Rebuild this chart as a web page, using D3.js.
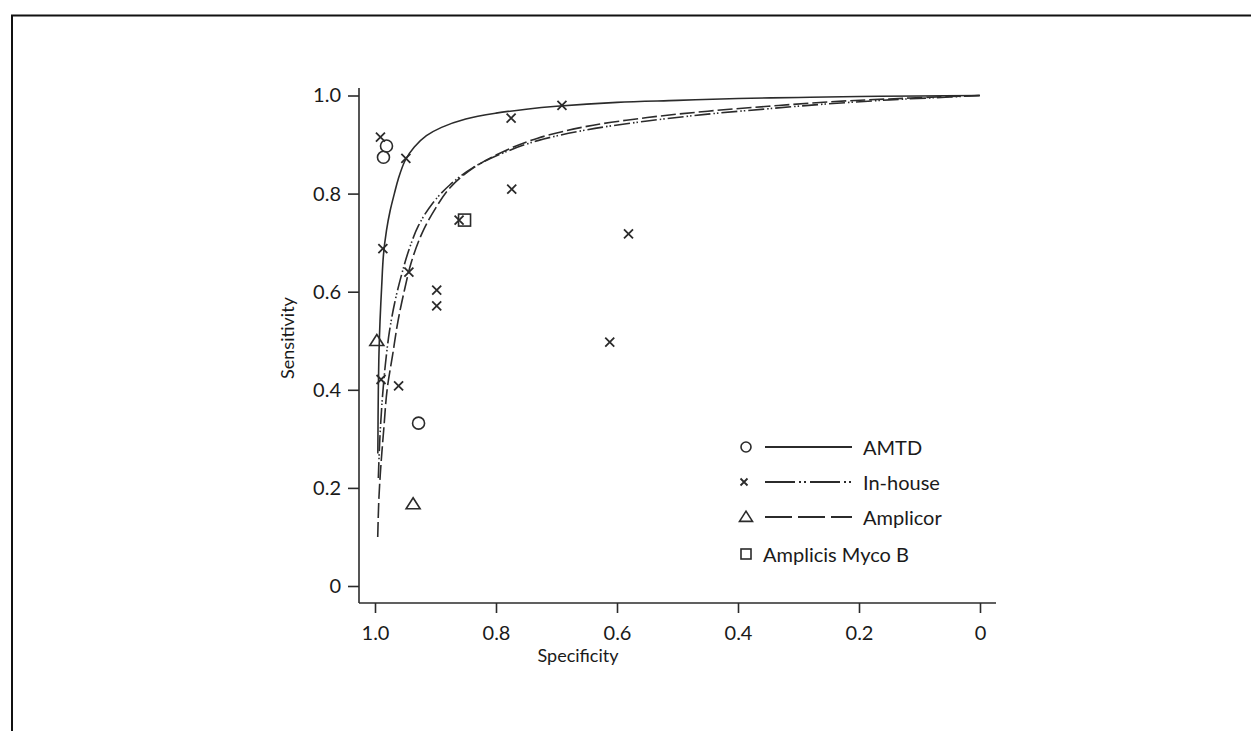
<!DOCTYPE html>
<html>
<head>
<meta charset="utf-8">
<script src="https://cdn.jsdelivr.net/npm/d3@7"></script>
<style>
  html, body { margin: 0; padding: 0; background: #fff; }
  svg { display: block; font-family: Lato, "Open Sans", sans-serif; }
</style>
</head>
<body>
<svg id="chart" width="1251" height="731"></svg>
<script>
// ---- Data (specificity, sensitivity) ----
const xTicks = [1.0, 0.8, 0.6, 0.4, 0.2, 0];
const yTicks = [0, 0.2, 0.4, 0.6, 0.8, 1.0];
const xTickLabels = ["1.0", "0.8", "0.6", "0.4", "0.2", "0"];
const yTickLabels = ["0", "0.2", "0.4", "0.6", "0.8", "1.0"];

const seriesNames = ["AMTD", "In-house", "Amplicor", "Amplicis Myco B"];

const amtdPoints = [[0.981, 0.897], [0.986, 0.874], [0.928, 0.332]];
const inhousePoints = [
  [0.991, 0.915], [0.949, 0.872], [0.987, 0.688], [0.944, 0.640],
  [0.898, 0.603], [0.898, 0.571], [0.861, 0.746], [0.990, 0.421],
  [0.961, 0.408], [0.774, 0.809], [0.775, 0.954], [0.691, 0.980],
  [0.581, 0.718], [0.612, 0.497]
];
const amplicorPoints = [[0.997, 0.500], [0.937, 0.167]];
const amplicisPoints = [[0.852, 0.746]];

const amtdCurve = [
  [0.9953, 0.27], [0.9945, 0.40], [0.9934, 0.475], [0.9917, 0.54], [0.989, 0.61],
  [0.986, 0.675], [0.981, 0.725], [0.975, 0.765], [0.968, 0.80], [0.9615, 0.83],
  [0.950, 0.868], [0.935, 0.895], [0.915, 0.918], [0.890, 0.935], [0.850, 0.952],
  [0.800, 0.964], [0.750, 0.972], [0.700, 0.978], [0.600, 0.986], [0.500, 0.990],
  [0.400, 0.994], [0.300, 0.996], [0.200, 0.998], [0.100, 0.999], [0.0, 1.0]
];
const inhouseCurve = [
  [0.9945, 0.22], [0.992, 0.30], [0.988, 0.38], [0.983, 0.45], [0.976, 0.52],
  [0.967, 0.58], [0.956, 0.635], [0.944, 0.685], [0.928, 0.735], [0.905, 0.78],
  [0.876, 0.818], [0.838, 0.853], [0.782, 0.886], [0.731, 0.908], [0.65, 0.93],
  [0.55, 0.948], [0.45, 0.962], [0.35, 0.973], [0.25, 0.983], [0.15, 0.991],
  [0.05, 0.997], [0, 1.0]
];
const amplicorCurve = [
  [0.9955, 0.10], [0.9935, 0.18], [0.990, 0.25], [0.9855, 0.32], [0.980, 0.40],
  [0.971, 0.47], [0.962, 0.54], [0.951, 0.605], [0.940, 0.66], [0.922, 0.72],
  [0.900, 0.77], [0.876, 0.812], [0.838, 0.852], [0.782, 0.889], [0.731, 0.913],
  [0.65, 0.937], [0.55, 0.955], [0.45, 0.968], [0.35, 0.978], [0.25, 0.987],
  [0.15, 0.993], [0.05, 0.998], [0, 1.0]
];

// ---- Drawing ----
const ink = "#2b2b2b";
const svg = d3.select("#chart");

// outer frame (clipped at right/bottom like the reference)
svg.append("rect").attr("x", 12).attr("y", 15.5).attr("width", 1400).attr("height", 900)
  .attr("fill", "none").attr("stroke", "#111").attr("stroke-width", 2);

const x = d3.scaleLinear().domain([1, 0]).range([375, 980]);
const y = d3.scaleLinear().domain([0, 1]).range([586, 95.5]);

const axisX = 603, axisY = 359;

// axis lines
svg.append("line").attr("x1", axisY).attr("x2", 996).attr("y1", axisX).attr("y2", axisX)
  .attr("stroke", ink).attr("stroke-width", 1.6);
svg.append("line").attr("x1", axisY).attr("x2", axisY).attr("y1", 88).attr("y2", axisX)
  .attr("stroke", ink).attr("stroke-width", 1.6);

const gx = svg.append("g").attr("transform", `translate(0,${axisX})`)
  .call(d3.axisBottom(x).tickValues(xTicks).tickFormat((d, i) => xTickLabels[i])
    .tickSize(10).tickPadding(13).tickSizeOuter(0));
gx.select(".domain").remove();
gx.selectAll("line").attr("stroke", ink).attr("stroke-width", 1.6);
gx.selectAll("text").attr("font-size", 20).attr("fill", "#1a1a1a").attr("font-family", "Lato, sans-serif");

const gy = svg.append("g").attr("transform", `translate(${axisY},0)`)
  .call(d3.axisLeft(y).tickValues(yTicks).tickFormat((d, i) => yTickLabels[i])
    .tickSize(11).tickPadding(7).tickSizeOuter(0));
gy.select(".domain").remove();
gy.selectAll("line").attr("stroke", ink).attr("stroke-width", 1.6);
gy.selectAll("text").attr("font-size", 20).attr("fill", "#1a1a1a").attr("font-family", "Lato, sans-serif");

// axis titles
svg.append("text").attr("x", 578).attr("y", 662).attr("text-anchor", "middle")
  .attr("font-size", 18).attr("fill", "#1a1a1a").text("Specificity");
svg.append("text").attr("transform", "translate(294,338) rotate(-90)").attr("text-anchor", "middle")
  .attr("font-size", 18).attr("fill", "#1a1a1a").text("Sensitivity");

// curves
const line = d3.line().x(d => x(d[0])).y(d => y(d[1])).curve(d3.curveCatmullRom.alpha(0.5));
const curveStyles = [
  { data: amtdCurve, dash: null },
  { data: inhouseCurve, dash: "16,3,1.5,2,1.5,3" },
  { data: amplicorCurve, dash: "15,4" }
];
curveStyles.forEach(c => {
  svg.append("path").attr("d", line(c.data)).attr("fill", "none")
    .attr("stroke", ink).attr("stroke-width", 1.6)
    .attr("stroke-dasharray", c.dash);
});

// markers
function drawCircle(g, cx, cy, r) {
  g.append("circle").attr("cx", cx).attr("cy", cy).attr("r", r)
    .attr("fill", "none").attr("stroke", ink).attr("stroke-width", 1.6);
}
function drawCross(g, cx, cy, s) {
  g.append("path").attr("d", `M${cx - s},${cy - s}L${cx + s},${cy + s}M${cx - s},${cy + s}L${cx + s},${cy - s}`)
    .attr("fill", "none").attr("stroke", ink).attr("stroke-width", 1.8);
}
function drawTri(g, cx, cy, s) {
  const h = s * 0.9;
  g.append("path").attr("d", `M${cx},${cy - h}L${cx + s},${cy + h * 0.75}L${cx - s},${cy + h * 0.75}Z`)
    .attr("fill", "none").attr("stroke", ink).attr("stroke-width", 1.6);
}
function drawSq(g, cx, cy, s) {
  g.append("rect").attr("x", cx - s).attr("y", cy - s).attr("width", 2 * s).attr("height", 2 * s)
    .attr("fill", "none").attr("stroke", ink).attr("stroke-width", 1.6);
}

const pts = svg.append("g");
amtdPoints.forEach(d => drawCircle(pts, x(d[0]), y(d[1]), 6));
inhousePoints.forEach(d => drawCross(pts, x(d[0]), y(d[1]), 4.5));
amplicorPoints.forEach(d => drawTri(pts, x(d[0]), y(d[1]), 7));
amplicisPoints.forEach(d => drawSq(pts, x(d[0]), y(d[1]), 6));

// legend
const lg = svg.append("g");
const legRows = [
  { y: 447, marker: "circle", dash: null },
  { y: 482, marker: "cross", dash: "30,4,2,3,2,4" },
  { y: 517, marker: "tri", dash: "27,6" },
  { y: 554, marker: "sq", dash: undefined }
];
legRows.forEach((r, i) => {
  const mx = 746;
  if (r.marker === "circle") drawCircle(lg, mx, r.y, 5);
  if (r.marker === "cross") drawCross(lg, mx - 2, r.y, 3.5);
  if (r.marker === "tri") drawTri(lg, mx, r.y, 6.5);
  if (r.marker === "sq") drawSq(lg, mx, r.y, 5);
  if (r.dash !== undefined) {
    lg.append("line").attr("x1", 765).attr("x2", 852).attr("y1", r.y).attr("y2", r.y)
      .attr("stroke", ink).attr("stroke-width", 1.8).attr("stroke-dasharray", r.dash);
    lg.append("text").attr("x", 863).attr("y", r.y + 8).attr("font-size", 20)
      .attr("fill", "#1a1a1a").text(seriesNames[i]);
  } else {
    lg.append("text").attr("x", 763).attr("y", r.y + 8).attr("font-size", 20)
      .attr("fill", "#1a1a1a").text(seriesNames[i]);
  }
});
</script>
</body>
</html>
